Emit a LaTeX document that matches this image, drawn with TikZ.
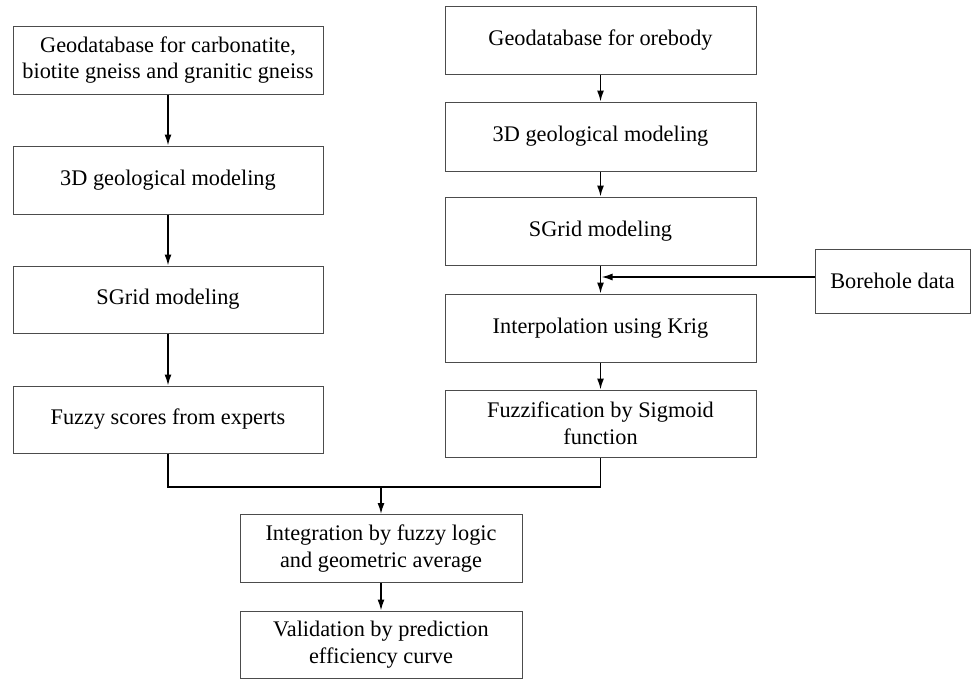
\documentclass[tikz,border=0pt]{standalone}
\usepackage{fontspec}
\setmainfont{Liberation Serif}
\usetikzlibrary{arrows.meta}
\begin{document}
\begin{tikzpicture}[x=1pt,y=-1pt,
  box/.style={draw=black!70, line width=1pt, align=center, inner sep=0pt,
    font=\fontsize{22.3}{26.5}\selectfont, text=black},
  arr/.style={line width=1.5pt, -{Latex[length=11pt,width=7pt]}},
  ln/.style={line width=1.5pt}]
\useasboundingbox (0,0) rectangle (973,680);
% left column
\node[box, minimum width=310pt, minimum height=68pt] (L1) at (168,60) {Geodatabase for carbonatite,\\biotite gneiss and granitic gneiss};
\node[box, minimum width=310pt, minimum height=68pt] (L2) at (168,180) {3D geological modeling};
\node[box, minimum width=310pt, minimum height=67pt] (L3) at (168,299.5) {SGrid modeling};
\node[box, minimum width=310pt, minimum height=67pt] (L4) at (168,419.5) {Fuzzy scores from experts};
% right column
\node[box, minimum width=311pt, minimum height=68pt] (R1) at (600.5,40) {Geodatabase for orebody};
\node[box, minimum width=311pt, minimum height=69pt] (R2) at (600.5,136.5) {3D geological modeling};
\node[box, minimum width=311pt, minimum height=68pt] (R3) at (600.5,231) {SGrid modeling};
\node[box, minimum width=311pt, minimum height=68pt] (R4) at (600.5,328) {Interpolation using Krig};
\node[box, minimum width=311pt, minimum height=67pt] (R5) at (600.5,423.5) {Fuzzification by Sigmoid\\function};
\node[box, minimum width=155pt, minimum height=64pt] (BH) at (892.5,281) {Borehole data};
% bottom
\node[box, minimum width=282pt, minimum height=68pt] (B1) at (381,548.5) {Integration by fuzzy logic\\and geometric average};
\node[box, minimum width=282pt, minimum height=67pt] (B2) at (381,644.5) {Validation by prediction\\efficiency curve};
% connectors
\draw[arr] (L1) -- (L2);
\draw[arr] (L2) -- (L3);
\draw[arr] (L3) -- (L4);
\draw[arr] (R1) -- (R2);
\draw[arr] (R2) -- (R3);
\draw[arr] (R3) -- (R4);
\draw[arr] (R4) -- (R5);
\coordinate (J) at (601.5,277);
\draw[arr] (BH.west |- J) -- (J);
\coordinate (M) at (381,487);
\draw[ln] (L4.south) |- (M) -| (R5.south);
\draw[arr] (M) -- (B1);
\draw[arr] (B1) -- (B2);
\end{tikzpicture}
\end{document}
